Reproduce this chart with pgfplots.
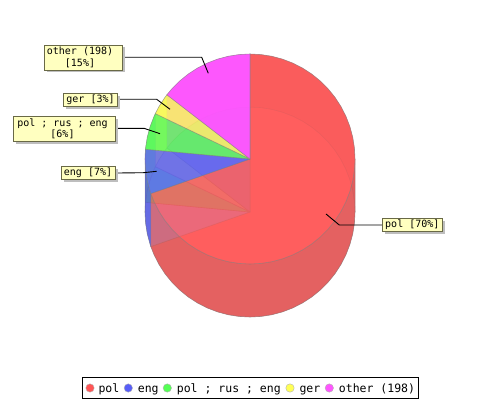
\documentclass[border=0pt]{standalone}
\usepackage{fontspec}
\setmainfont{DejaVu Sans Mono}
\usepackage{pgfplots}
\usepackage{pgfplotstable}
\pgfplotsset{compat=1.18}
\definecolor{Ar}{RGB}{255,85,85}\definecolor{Ab}{RGB}{88,94,248}\definecolor{Ag}{RGB}{85,255,85}\definecolor{Ay}{RGB}{255,255,85}\definecolor{Am}{RGB}{255,85,255}
\definecolor{Br}{RGB}{255,130,130}\definecolor{Bb}{RGB}{164,177,255}\definecolor{Bg}{RGB}{118,222,155}\definecolor{By}{RGB}{200,190,170}\definecolor{Bm}{RGB}{164,153,199}
\definecolor{Sr}{RGB}{219,86,86}\definecolor{Stop}{RGB}{232,75,75}\definecolor{Sb}{RGB}{80,84,219}\definecolor{Sg}{RGB}{86,219,86}\definecolor{Sy}{RGB}{219,219,86}\definecolor{Sm}{RGB}{219,86,219}
\definecolor{lblfill}{RGB}{255,255,192}\definecolor{lbledge}{RGB}{105,105,70}\definecolor{shad}{RGB}{190,190,190}
\pgfplotstableread{
x y
0 0
0 105
10.98 104.42
21.83 102.71
32.45 99.86
42.71 95.92
52.5 90.93
61.72 84.95
70.26 78.03
78.03 70.26
84.95 61.72
90.93 52.5
95.92 42.71
99.86 32.45
102.71 21.83
104.42 10.98
105 0
104.42 -10.98
102.71 -21.83
99.86 -32.45
95.92 -42.71
90.93 -52.5
84.95 -61.72
78.03 -70.26
70.26 -78.03
61.72 -84.95
52.5 -90.93
42.71 -95.92
32.45 -99.86
21.83 -102.71
10.98 -104.42
0 -105
-10.98 -104.42
-21.83 -102.71
-32.45 -99.86
-42.71 -95.92
-52.5 -90.93
-61.72 -84.95
-70.26 -78.03
-78.03 -70.26
-84.95 -61.72
-90.93 -52.5
-95.92 -42.71
-99.16 -34.53
0 0
}\wred
\pgfplotstableread{
x y
0 0
-99.16 -34.53
-99.86 -32.45
-102.71 -21.83
-104.42 -10.98
-105 0
-104.55 9.70
0 0
}\wblue
\pgfplotstableread{
x y
0 0
-104.55 9.70
-104.42 10.98
-102.71 21.83
-99.86 32.45
-95.92 42.71
-94.69 45.37
0 0
}\wgreen
\pgfplotstableread{
x y
0 0
-94.69 45.37
-90.93 52.5
-84.95 61.72
-83.08 64.21
0 0
}\wyellow
\pgfplotstableread{
x y
0 0
-83.08 64.21
-78.03 70.26
-70.26 78.03
-61.72 84.95
-52.5 90.93
-42.71 95.92
-32.45 99.86
-21.83 102.71
-10.98 104.42
0 105
0 0
}\wmag
\pgfplotstableread{
x y
0 105
10.98 104.42
21.83 102.71
32.45 99.86
42.71 95.92
52.5 90.93
61.72 84.95
70.26 78.03
78.03 70.26
84.95 61.72
90.93 52.5
95.92 42.71
99.86 32.45
102.71 21.83
104.42 10.98
105 0
105 -53
104.42 -42.02
102.71 -31.17
99.86 -20.55
95.92 -10.29
90.93 -0.5
84.95 8.72
78.03 17.26
70.26 25.03
61.72 31.95
52.5 37.93
42.71 42.92
32.45 46.86
21.83 49.71
10.98 51.42
0 52
0 105
}\sredA
\pgfplotstableread{
x y
105 0
104.42 -10.98
102.71 -21.83
99.86 -32.45
95.92 -42.71
90.93 -52.5
84.95 -61.72
78.03 -70.26
70.26 -78.03
61.72 -84.95
52.5 -90.93
42.71 -95.92
32.45 -99.86
21.83 -102.71
10.98 -104.42
0 -105
-10.98 -104.42
-21.83 -102.71
-32.45 -99.86
-42.71 -95.92
-52.5 -90.93
-61.72 -84.95
-70.26 -78.03
-78.03 -70.26
-84.95 -61.72
-90.93 -52.5
-95.92 -42.71
-99.16 -34.53
-99.16 -87.53
-95.92 -95.71
-90.93 -105.5
-84.95 -114.72
-78.03 -123.26
-70.26 -131.03
-61.72 -137.95
-52.5 -143.93
-42.71 -148.92
-32.45 -152.86
-21.83 -155.71
-10.98 -157.42
0 -158
10.98 -157.42
21.83 -155.71
32.45 -152.86
42.71 -148.92
52.5 -143.93
61.72 -137.95
70.26 -131.03
78.03 -123.26
84.95 -114.72
90.93 -105.5
95.92 -95.71
99.86 -85.45
102.71 -74.83
104.42 -63.98
105 -53
105 0
}\sredB
\pgfplotstableread{
x y
-99.16 -34.53
-99.86 -32.45
-102.71 -21.83
-104.42 -10.98
-105 0
-105 -53
-104.42 -63.98
-102.71 -74.83
-99.86 -85.45
-99.16 -87.53
-99.16 -34.53
}\sblueA
\pgfplotstableread{
x y
-105 0
-104.55 9.70
-104.55 -43.3
-105 -53
-105 0
}\sblueB
\pgfplotstableread{
x y
-104.55 9.70
-104.42 10.98
-102.71 21.83
-99.86 32.45
-95.92 42.71
-94.69 45.37
-94.69 -7.63
-95.92 -10.29
-99.86 -20.55
-102.71 -31.17
-104.42 -42.02
-104.55 -43.3
-104.55 9.70
}\sgreen
\pgfplotstableread{
x y
-94.69 45.37
-90.93 52.5
-84.95 61.72
-83.08 64.21
-83.08 11.21
-84.95 8.72
-90.93 -0.5
-94.69 -7.63
-94.69 45.37
}\syellow
\pgfplotstableread{
x y
-83.08 64.21
-78.03 70.26
-70.26 78.03
-61.72 84.95
-52.5 90.93
-42.71 95.92
-32.45 99.86
-21.83 102.71
-10.98 104.42
0 105
0 52
-10.98 51.42
-21.83 49.71
-32.45 46.86
-42.71 42.92
-52.5 37.93
-61.72 31.95
-70.26 25.03
-78.03 17.26
-83.08 11.21
-83.08 64.21
}\smag
\newcommand{\lbl}[6]{% x0 x1 y0 y1 text text-shift
  \fill[shad] (axis cs:#1+2.5,#3-2.5) rectangle (axis cs:#2+2.5,#4-2.5);
  \draw[lbledge,fill=lblfill,line width=0.9pt] (axis cs:#1,#3) rectangle (axis cs:#2,#4);
  \node[anchor=center,inner sep=0pt,align=center,font=\fontsize{10}{11.5}\selectfont,text=black] at (axis cs:{(#1+#2)/2+#6},{(#3+#4)/2}) {#5};
}
\begin{document}
\begin{tikzpicture}
\useasboundingbox (0,0) rectangle (500pt,400pt);
\begin{axis}[
  at={(0,0)}, anchor=south west,
  hide axis, scale only axis, width=500pt, height=400pt,
  xmin=-250, xmax=250, ymin=-241, ymax=159, clip=false,
  every axis plot/.append style={no markers},
  wedge/.style={line width=0.6pt,draw=gray,draw opacity=0.7},
  top/.style={line width=0.6pt,draw=gray,draw opacity=0.55,fill opacity=0.78},
  band/.style={line width=0.5pt,draw=gray,draw opacity=0.3,fill opacity=0.75}
]
% lower disc
\addplot[wedge,fill=Br] table[x=x,y expr=\thisrow{y}-53] {\wred};
\addplot[wedge,fill=Bb] table[x=x,y expr=\thisrow{y}-53] {\wblue};
\addplot[wedge,fill=Bg] table[x=x,y expr=\thisrow{y}-53] {\wgreen};
\addplot[wedge,fill=By] table[x=x,y expr=\thisrow{y}-53] {\wyellow};
\addplot[wedge,fill=Bm] table[x=x,y expr=\thisrow{y}-53] {\wmag};
% side
\addplot[band,fill=Sm] table {\smag};
\addplot[band,fill=Sy] table {\syellow};
\addplot[band,fill=Sg] table {\sgreen};
\addplot[band,fill=Sb] table {\sblueB};
\addplot[band,fill=Sb] table {\sblueA};
\addplot[band,fill=Stop] table {\sredA};
\addplot[band,fill=Sr] table {\sredB};
% upper disc
\addplot[top,fill=Ar] table {\wred};
\addplot[top,fill=Ab] table {\wblue};
\addplot[top,fill=Ag] table {\wgreen};
\addplot[top,fill=Ay] table {\wyellow};
\addplot[top,fill=Am,fill opacity=0.95] table {\wmag};
% leaders
\addplot[black,line width=0.9pt] coordinates {(-126,101.7) (-48.3,101.7) (-41.7,85.7)};
\addplot[black,line width=0.9pt] coordinates {(-131.3,59.7) (-93.3,59.7) (-80,49.7)};
\addplot[black,line width=0.9pt] coordinates {(-132,30.7) (-106,30.7) (-90,25.3)};
\addplot[black,line width=0.9pt] coordinates {(-132,-14) (-106.7,-13.7) (-93.3,-12.3)};
\addplot[black,line width=0.9pt] coordinates {(76,-55) (89.3,-66) (132.3,-66)};
% labels
\lbl{-205.7}{-127.3}{114}{89}{other (198)\\{[15\%]}}{-3.5}
\lbl{-186.7}{-132.3}{65.7}{52.7}{ger [3\%]}{0}
\lbl{-236.7}{-134.3}{43}{17.7}{pol ; rus ; eng\\{[6\%]}}{-2}
\lbl{-188.7}{-134.3}{-7}{-20.7}{eng [7\%]}{-0.5}
\lbl{132.3}{192.3}{-59.7}{-72}{pol [70\%]}{0}
% legend
\draw[black,fill=white,line width=1pt] (axis cs:-167.7,-218.3) rectangle (axis cs:168.3,-239.3);
\addplot[only marks,mark=*,mark size=4.2pt,mark options={fill=Ar,draw=gray!60,line width=0.4pt}] coordinates {(-160,-229)};
\addplot[only marks,mark=*,mark size=4.2pt,mark options={fill=Ab,draw=gray!60,line width=0.4pt}] coordinates {(-121.7,-229)};
\addplot[only marks,mark=*,mark size=4.2pt,mark options={fill=Ag,draw=gray!60,line width=0.4pt}] coordinates {(-82.7,-229)};
\addplot[only marks,mark=*,mark size=4.2pt,mark options={fill=Ay,draw=gray!60,line width=0.4pt}] coordinates {(40,-229)};
\addplot[only marks,mark=*,mark size=4.2pt,mark options={fill=Am,draw=gray!60,line width=0.4pt}] coordinates {(79.3,-229)};
\tikzset{lg/.style={anchor=base west,inner sep=0pt,font=\fontsize{11.5}{13}\selectfont}}
\node[lg] at (axis cs:-151.7,-233) {pol};
\node[lg] at (axis cs:-112.3,-233) {eng};
\node[lg] at (axis cs:-73.3,-233) {pol ; rus ; eng};
\node[lg] at (axis cs:49.3,-233) {ger};
\node[lg] at (axis cs:88.7,-233) {other (198)};
\end{axis}
\end{tikzpicture}
\end{document}
